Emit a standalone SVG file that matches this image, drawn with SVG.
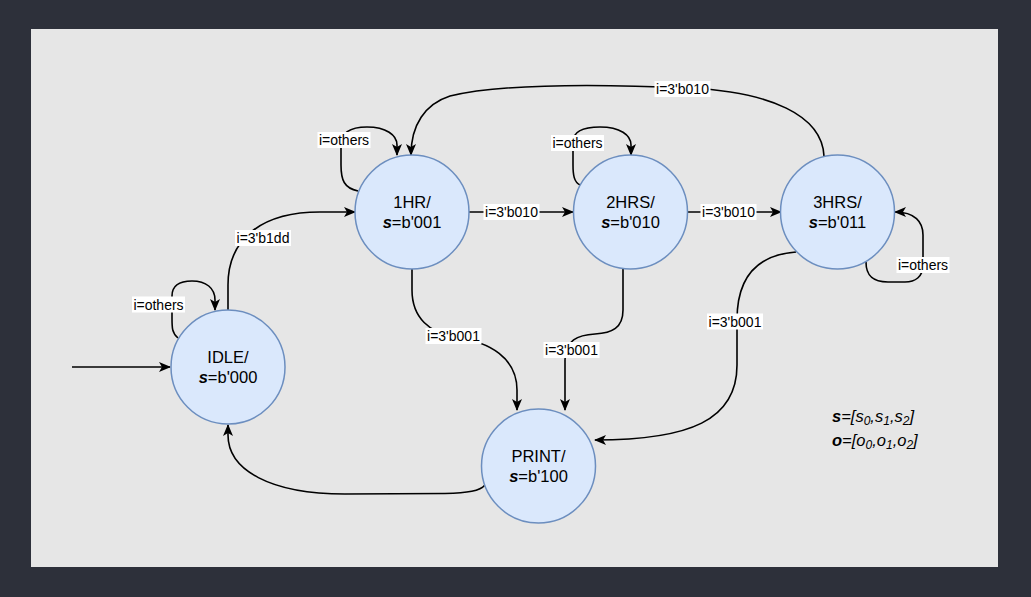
<svg xmlns="http://www.w3.org/2000/svg" width="1031" height="597" viewBox="0 0 1031 597">
<defs>
<marker id="arr" markerWidth="12" markerHeight="10" refX="11" refY="5" orient="auto" markerUnits="userSpaceOnUse">
<path d="M0,0 L12,5 L0,10 L3,5 Z" fill="#000"/>
</marker>
</defs>
<style>
.node circle{fill:#dae8fc;stroke:#6c8ebf;stroke-width:1.5}
.nt{font-family:"Liberation Sans",Arial,sans-serif;font-size:16.5px;fill:#000;text-anchor:middle}
.b{font-weight:bold;font-style:italic}
.e{fill:none;stroke:#000;stroke-width:1.6;marker-end:url(#arr)}
.lb rect{fill:#fff}
.lt{font-family:"Liberation Sans",Arial,sans-serif;font-size:14px;fill:#000;text-anchor:middle;dominant-baseline:central}
.lg{font-family:"Liberation Sans",Arial,sans-serif;font-size:16.5px;fill:#000;font-style:italic}
</style>
<rect x="0" y="0" width="1031" height="597" fill="#2d303a"/>
<rect x="31" y="29" width="967" height="538" fill="#e6e6e6"/>

<g id="connectors">
<path class="e" d="M72,367 L170,367"/>
<path class="e" d="M178,338 C172,333 172,328 172,318 L172,296 C172,286 178,281 192,281 C206,281 215,288 215,300 L215,310"/>
<path class="e" d="M228,311 L228,285 C228,240 260,212 320,212 L355,212"/>
<path class="e" d="M358,191 C344,188 341,180 341,165 L341,145 C341,133 350,127 367,127 C386,127 397,135 397,145 L397,155"/>
<path class="e" d="M468,212 L573,212"/>
<path class="e" d="M688,212 L781,212"/>
<path class="e" d="M580,185 C574,182 573,175 573,165 L573,142 C573,132 582,127 600,127 C620,127 631,135 631,145 L631,155"/>
<path class="e" d="M866,262 C866,275 872,282 888,282 L905,282 C915,282 923,277 923,265 L923,235 C923,222 915,212 895,212"/>
<path class="e" d="M824,156 C822,115 770,92 690,88 C600,84 500,84 450,96 C425,104 411,125 411,155"/>
<path class="e" d="M412,268 L412,290 C412,318 430,333 455,337 C490,342 517,358 517,390 L517,410"/>
<path class="e" d="M623,269 L623,310 C623,328 612,333 595,334 C578,335 565,340 565,360 L565,410"/>
<path class="e" d="M796,252 C755,255 737,280 737,320 L737,365 C737,420 690,440 595,440"/>
<path class="e" d="M485,485 C480,491 468,493 445,493.5 L345,494 C270,494 228,470 228,435 L228,425"/>

<g class="lb"><rect x="132" y="296.5" width="53" height="16"/><text class="lt" x="158.5" y="304.5">i=others</text></g>
<g class="lb"><rect x="235" y="230" width="56" height="16"/><text class="lt" x="263" y="238">i=3'b1dd</text></g>
<g class="lb"><rect x="317.5" y="132" width="53" height="16"/><text class="lt" x="344" y="140">i=others</text></g>
<g class="lb"><rect x="483.5" y="204" width="56" height="16"/><text class="lt" x="511.5" y="212">i=3'b010</text></g>
<g class="lb"><rect x="700.5" y="204" width="56" height="16"/><text class="lt" x="728.5" y="212">i=3'b010</text></g>
<g class="lb"><rect x="551" y="135" width="53" height="16"/><text class="lt" x="577.5" y="143">i=others</text></g>
<g class="lb"><rect x="896.5" y="257" width="53" height="16"/><text class="lt" x="923" y="265">i=others</text></g>
<g class="lb"><rect x="654.5" y="81" width="56" height="16"/><text class="lt" x="682.5" y="89">i=3'b010</text></g>
<g class="lb"><rect x="425.5" y="328" width="56" height="16"/><text class="lt" x="453.5" y="336">i=3'b001</text></g>
<g class="lb"><rect x="543.5" y="342" width="56" height="16"/><text class="lt" x="571.5" y="350">i=3'b001</text></g>
<g class="lb"><rect x="707" y="313.5" width="56" height="16"/><text class="lt" x="735" y="321.5">i=3'b001</text></g>
</g>

<g id="idle" class="node"><circle cx="228" cy="367" r="57"/><text class="nt" x="228" y="363">IDLE/</text><text class="nt" x="228" y="383"><tspan class="b">s</tspan>=b'000</text></g>
<g id="hr1" class="node"><circle cx="412" cy="212" r="57"/><text class="nt" x="412" y="208">1HR/</text><text class="nt" x="412" y="228"><tspan class="b">s</tspan>=b'001</text></g>
<g id="hrs2" class="node"><circle cx="630.5" cy="212" r="57"/><text class="nt" x="630.5" y="208">2HRS/</text><text class="nt" x="630.5" y="228"><tspan class="b">s</tspan>=b'010</text></g>
<g id="hrs3" class="node"><circle cx="837.5" cy="212" r="57"/><text class="nt" x="837.5" y="208">3HRS/</text><text class="nt" x="837.5" y="228"><tspan class="b">s</tspan>=b'011</text></g>
<g id="print" class="node"><circle cx="538.5" cy="466" r="57"/><text class="nt" x="538.5" y="462">PRINT/</text><text class="nt" x="538.5" y="482"><tspan class="b">s</tspan>=b'100</text></g>

<g id="legend">
<text class="lg" x="832" y="422"><tspan font-weight="bold">s</tspan>=[s<tspan font-size="12" dy="3">0</tspan><tspan dy="-3">,s</tspan><tspan font-size="12" dy="3">1</tspan><tspan dy="-3">,s</tspan><tspan font-size="12" dy="3">2</tspan><tspan dy="-3">]</tspan></text>
<text class="lg" x="832" y="446"><tspan font-weight="bold">o</tspan>=[o<tspan font-size="12" dy="3">0</tspan><tspan dy="-3">,o</tspan><tspan font-size="12" dy="3">1</tspan><tspan dy="-3">,o</tspan><tspan font-size="12" dy="3">2</tspan><tspan dy="-3">]</tspan></text>
</g>
</svg>
